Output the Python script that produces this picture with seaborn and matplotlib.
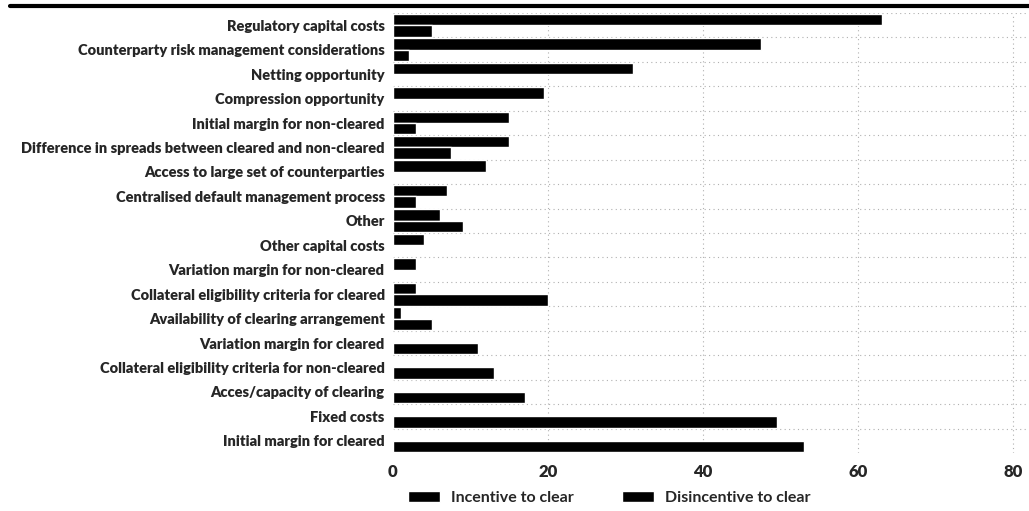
import matplotlib
matplotlib.use("Agg")
import matplotlib.pyplot as plt
import seaborn as sns
import pandas as pd
from matplotlib.lines import Line2D

categories = [
    "Regulatory capital costs",
    "Counterparty risk management considerations",
    "Netting opportunity",
    "Compression opportunity",
    "Initial margin for non-cleared",
    "Difference in spreads between cleared and non-cleared",
    "Access to large set of counterparties",
    "Centralised default management process",
    "Other",
    "Other capital costs",
    "Variation margin for non-cleared",
    "Collateral eligibility criteria for cleared",
    "Availability of clearing arrangement",
    "Variation margin for cleared",
    "Collateral eligibility criteria for non-cleared",
    "Acces/capacity of clearing",
    "Fixed costs",
    "Initial margin for cleared",
]
incentive = [63, 47.5, 31, 19.5, 15, 15, 12, 7, 6, 4, 3, 3, 1, 0, 0, 0, 0, 0]
disincentive = [5, 2, 0, 0, 3, 7.5, 0, 3, 9, 0, 0, 20, 5, 11, 13, 17, 49.5, 53]
series_names = ["Incentive to clear", "Disincentive to clear"]
x_ticks = [0, 20, 40, 60, 80]

df = pd.DataFrame({
    "category": categories * 2,
    "series": [series_names[0]] * len(categories) + [series_names[1]] * len(categories),
    "value": incentive + disincentive,
})

sns.set_theme(style="white")
plt.rcParams["font.family"] = ["Lato", "DejaVu Sans"]

fig = plt.figure(figsize=(10.29, 5.11), dpi=100)
ax = fig.add_axes([393 / 1029, 1 - 453 / 511, 1 - 393 / 1029, (453 - 13) / 511])

sns.barplot(data=df, y="category", x="value", hue="series", order=categories,
            hue_order=series_names, palette=["black", "black"], saturation=1,
            orient="h", width=0.94, errorbar=None, ax=ax)

handles, labels = ax.get_legend_handles_labels()
if ax.get_legend() is not None:
    ax.get_legend().remove()

ax.set_xlim(0, 82)
ax.set_ylim(len(categories) - 0.5, -0.5)
ax.set_xticks(x_ticks)
ax.set_xticklabels([str(t) for t in x_ticks], fontsize=12, fontweight="heavy")
ax.set_yticks(range(len(categories)))
ax.set_yticklabels(categories, fontsize=10.5, fontweight="heavy")
ax.set_xlabel("")
ax.set_ylabel("")
ax.tick_params(axis="both", length=0)
ax.tick_params(axis="y", pad=6)
ax.tick_params(axis="x", pad=8)

for s in ax.spines.values():
    s.set_visible(False)

ax.set_axisbelow(True)
for t in x_ticks[1:]:
    ax.axvline(t, color="#b0b0b0", linestyle=(0, (1, 3)), linewidth=0.8, zorder=0)
for i in range(len(categories)):
    ax.axhline(i - 0.5, color="#b0b0b0", linestyle=(0, (1, 3)), linewidth=0.8, zorder=0)

fig.add_artist(Line2D([10 / 1029, 1.0], [1 - 6.5 / 511, 1 - 6.5 / 511],
                      transform=fig.transFigure, color="black", linewidth=3))

fig.legend(handles, labels, loc="center", bbox_to_anchor=(0.592, 0.026), ncol=2,
           frameon=False, prop={"size": 11.5, "weight": "bold"},
           handlelength=2.0, handleheight=0.75, columnspacing=3.0, handletextpad=0.7)

fig.savefig("out.png", dpi=100)
